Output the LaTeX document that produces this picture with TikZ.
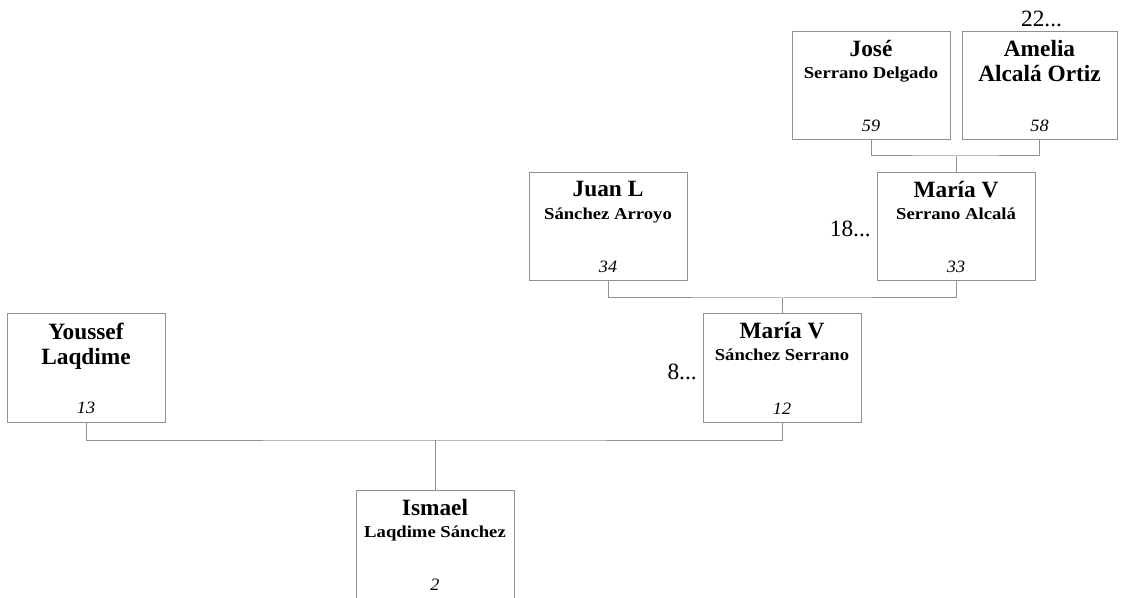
\documentclass[tikz,border=0pt]{standalone}
\usepackage{fontspec}
\setmainfont{Liberation Serif}
\newfontfamily\smallnamefont[FakeStretch=1.12]{Liberation Serif}
\newfontfamily\numfont[FakeStretch=1.05]{Liberation Serif}
\usetikzlibrary{calc}
\definecolor{linegray}{RGB}{145,145,145}
\begin{document}
\begin{tikzpicture}[x=0.75pt,y=-0.75pt,
  person/.style={draw=linegray, line width=0.75pt, fill=white, rectangle, anchor=north west,
    minimum width=118.5pt, minimum height=81pt, inner sep=0pt, outer sep=0pt},
  link/.style={draw=linegray, line width=0.75pt},
  bigname/.style={anchor=base, inner sep=0pt, font=\fontsize{17.5}{20}\selectfont\bfseries},
  smallname/.style={anchor=base, inner sep=0pt, font=\smallnamefont\fontsize{12.5}{15}\selectfont\bfseries},
  num/.style={anchor=base, inner sep=0pt, font=\numfont\fontsize{13}{15}\selectfont\itshape},
  gen/.style={inner sep=0pt, font=\fontsize{17.5}{20}\selectfont}
]
\clip (0,0) rectangle (1124,598);
\fill[white] (0,0) rectangle (1124,598);

% boxes
\node[person] (jose) at (792,32) {};
\node[person, minimum width=116.25pt] (amelia) at (962,32) {};
\node[person] (mariaSA) at (877,173) {};
\node[person] (juan) at (529,173) {};
\node[person] (mariaSS) at (703,314) {};
\node[person] (youssef) at (7,314) {};
\node[person, minimum height=82.5pt] (ismael) at (356,490) {};

% texts
\node[bigname] (joseA) at ($(jose.north)+(0,25)$) {José};
\node[smallname] (joseB) at ($(jose.north)+(0,47)$) {Serrano Delgado};
\node[num] (joseN) at ($(jose.north)+(0,100)$) {59};

\node[bigname] (ameliaA) at ($(amelia.north)+(0,25)$) {Amelia};
\node[bigname] (ameliaB) at ($(amelia.north)+(0,50)$) {Alcalá Ortiz};
\node[num] (ameliaN) at ($(amelia.north)+(0,100)$) {58};

\node[bigname] (mariaSAA) at ($(mariaSA.north)+(0,25)$) {María V};
\node[smallname] (mariaSAB) at ($(mariaSA.north)+(0,47)$) {Serrano Alcalá};
\node[num] (mariaSAN) at ($(mariaSA.north)+(0,100)$) {33};

\node[bigname] (juanA) at ($(juan.north)+(0,24)$) {Juan L};
\node[smallname] (juanB) at ($(juan.north)+(0,47)$) {Sánchez Arroyo};
\node[num] (juanN) at ($(juan.north)+(0,100)$) {34};

\node[bigname] (mariaSSA) at ($(mariaSS.north)+(0,25)$) {María V};
\node[smallname] (mariaSSB) at ($(mariaSS.north)+(0,47)$) {Sánchez Serrano};
\node[num] (mariaSSN) at ($(mariaSS.north)+(0,100)$) {12};

\node[bigname] (youssefA) at ($(youssef.north)+(0,26)$) {Youssef};
\node[bigname] (youssefB) at ($(youssef.north)+(0,51)$) {Laqdime};
\node[num] (youssefN) at ($(youssef.north)+(0,99)$) {13};

\node[bigname] (ismaelA) at ($(ismael.north)+(0,25)$) {Ismael};
\node[smallname] (ismaelB) at ($(ismael.north)+(0,47)$) {Laqdime Sánchez};
\node[num] (ismaelN) at ($(ismael.north)+(0,100)$) {2};

% generation labels
\node[gen, anchor=base] (g22) at ($(amelia.north)+(2,-5)$) {22...};
\node[gen, anchor=base east] (g18) at ($(mariaSA.north west)+(-6,64)$) {18...};
\node[gen, anchor=base east] (g8) at ($(mariaSS.north west)+(-6,65)$) {8...};

% connectors
\coordinate (j1) at ($(mariaSA.north)+(0,-17)$);
\draw[link] (jose.south) |- (j1) -| (amelia.south);
\draw[link] (j1) -- (mariaSA.north);

\coordinate (j2) at ($(mariaSS.north)+(0,-16)$);
\draw[link] (juan.south) |- (j2) -| (mariaSA.south);
\draw[link] (j2) -- (mariaSS.north);

\coordinate (j3) at ($(ismael.north)+(0,-50)$);
\draw[link] (youssef.south) |- (j3) -| (mariaSS.south);
\draw[link] (j3) -- (ismael.north);
\end{tikzpicture}
\end{document}
